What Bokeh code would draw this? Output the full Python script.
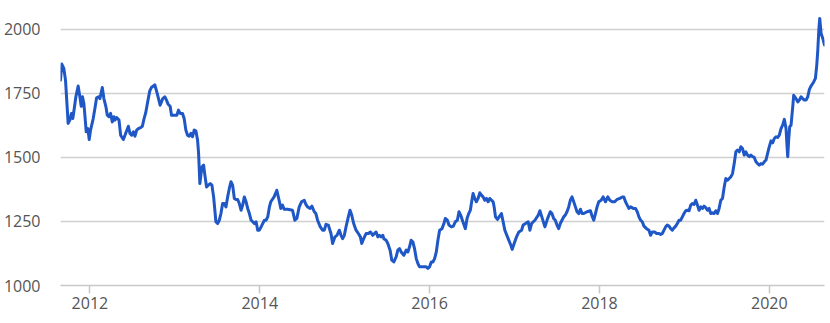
from bokeh.plotting import figure
from bokeh.models import FixedTicker, Range1d
from bokeh.embed import file_html
from bokeh.resources import INLINE

years = [
    2011.654, 2011.669, 2011.693, 2011.713, 2011.744, 2011.764, 2011.783, 2011.799, 2011.819, 2011.835,
    2011.862, 2011.882, 2011.898, 2011.913, 2011.929, 2011.941, 2011.957, 2011.976, 2011.992, 2012.008,
    2012.039, 2012.059, 2012.079, 2012.102, 2012.118, 2012.146, 2012.165, 2012.189, 2012.205, 2012.224,
    2012.244, 2012.264, 2012.283, 2012.295, 2012.315, 2012.343, 2012.362, 2012.394, 2012.421, 2012.453,
    2012.472, 2012.492, 2012.512, 2012.531, 2012.551, 2012.571, 2012.598, 2012.618, 2012.638, 2012.657,
    2012.677, 2012.705, 2012.724, 2012.748, 2012.764, 2012.787, 2012.803, 2012.827, 2012.843, 2012.858,
    2012.882, 2012.902, 2012.921, 2012.945, 2012.961, 2012.992, 2013.024, 2013.043, 2013.063, 2013.091,
    2013.110, 2013.130, 2013.150, 2013.169, 2013.189, 2013.209, 2013.228, 2013.248, 2013.268, 2013.280,
    2013.295, 2013.319, 2013.339, 2013.354, 2013.374, 2013.394, 2013.417, 2013.437, 2013.457, 2013.484,
    2013.504, 2013.524, 2013.543, 2013.563, 2013.583, 2013.602, 2013.622, 2013.642, 2013.661, 2013.681,
    2013.701, 2013.720, 2013.740, 2013.760, 2013.780, 2013.799, 2013.819, 2013.839, 2013.858, 2013.878,
    2013.898, 2013.917, 2013.937, 2013.957, 2013.976, 2013.996, 2014.016, 2014.035, 2014.055, 2014.075,
    2014.094, 2014.114, 2014.130, 2014.169, 2014.201, 2014.228, 2014.248, 2014.268, 2014.287, 2014.327,
    2014.386, 2014.413, 2014.437, 2014.465, 2014.492, 2014.524, 2014.543, 2014.563, 2014.594, 2014.614,
    2014.642, 2014.661, 2014.681, 2014.713, 2014.740, 2014.760, 2014.780, 2014.807, 2014.839, 2014.858,
    2014.886, 2014.909, 2014.937, 2014.957, 2014.976, 2014.996, 2015.016, 2015.043, 2015.063, 2015.083,
    2015.106, 2015.134, 2015.161, 2015.185, 2015.201, 2015.224, 2015.252, 2015.280, 2015.303, 2015.331,
    2015.350, 2015.370, 2015.390, 2015.409, 2015.429, 2015.449, 2015.461, 2015.488, 2015.508, 2015.535,
    2015.555, 2015.579, 2015.606, 2015.626, 2015.646, 2015.665, 2015.697, 2015.724, 2015.744, 2015.764,
    2015.783, 2015.803, 2015.823, 2015.843, 2015.862, 2015.882, 2015.909, 2015.941, 2015.961, 2015.980,
    2016.000, 2016.020, 2016.039, 2016.059, 2016.079, 2016.098, 2016.118, 2016.146, 2016.169, 2016.185,
    2016.209, 2016.228, 2016.256, 2016.280, 2016.303, 2016.327, 2016.346, 2016.366, 2016.386, 2016.406,
    2016.421, 2016.441, 2016.461, 2016.480, 2016.492, 2016.512, 2016.531, 2016.551, 2016.571, 2016.591,
    2016.610, 2016.630, 2016.650, 2016.669, 2016.689, 2016.709, 2016.728, 2016.748, 2016.760, 2016.776,
    2016.799, 2016.827, 2016.846, 2016.866, 2016.886, 2016.925, 2016.957, 2016.972, 2016.996, 2017.024,
    2017.051, 2017.083, 2017.102, 2017.130, 2017.161, 2017.181, 2017.201, 2017.240, 2017.280, 2017.299,
    2017.327, 2017.358, 2017.390, 2017.421, 2017.441, 2017.461, 2017.480, 2017.500, 2017.520, 2017.539,
    2017.559, 2017.579, 2017.598, 2017.618, 2017.638, 2017.657, 2017.677, 2017.697, 2017.717, 2017.736,
    2017.756, 2017.776, 2017.795, 2017.815, 2017.854, 2017.894, 2017.913, 2017.933, 2017.953, 2017.972,
    2017.992, 2018.020, 2018.043, 2018.071, 2018.098, 2018.122, 2018.150, 2018.177, 2018.209, 2018.240,
    2018.268, 2018.287, 2018.307, 2018.327, 2018.346, 2018.366, 2018.398, 2018.425, 2018.445, 2018.465,
    2018.484, 2018.504, 2018.524, 2018.555, 2018.583, 2018.602, 2018.622, 2018.650, 2018.673, 2018.701,
    2018.720, 2018.740, 2018.760, 2018.780, 2018.799, 2018.819, 2018.839, 2018.858, 2018.878, 2018.898,
    2018.917, 2018.937, 2018.957, 2018.976, 2018.996, 2019.016, 2019.035, 2019.055, 2019.075, 2019.094,
    2019.114, 2019.134, 2019.154, 2019.173, 2019.193, 2019.213, 2019.232, 2019.252, 2019.272, 2019.291,
    2019.311, 2019.331, 2019.350, 2019.370, 2019.390, 2019.409, 2019.429, 2019.449, 2019.469, 2019.488,
    2019.508, 2019.528, 2019.547, 2019.567, 2019.587, 2019.606, 2019.626, 2019.646, 2019.665, 2019.685,
    2019.705, 2019.724, 2019.744, 2019.764, 2019.783, 2019.803, 2019.823, 2019.843, 2019.862, 2019.882,
    2019.902, 2019.921, 2019.941, 2019.961, 2019.980, 2020.000, 2020.020, 2020.039, 2020.059, 2020.079,
    2020.098, 2020.118, 2020.138, 2020.157, 2020.177, 2020.197, 2020.209, 2020.217, 2020.228, 2020.240,
    2020.256, 2020.276, 2020.287, 2020.315, 2020.335, 2020.354, 2020.374, 2020.394, 2020.413, 2020.433,
    2020.453, 2020.472, 2020.492, 2020.524, 2020.543, 2020.559, 2020.571, 2020.583, 2020.594, 2020.610,
    2020.630, 2020.650,
]

prices = [
    1802, 1865, 1848, 1802, 1633, 1646, 1672, 1652, 1698, 1737,
    1779, 1737, 1700, 1737, 1711, 1665, 1600, 1613, 1570, 1607,
    1652, 1691, 1733, 1737, 1730, 1773, 1730, 1698, 1665, 1659,
    1672, 1639, 1659, 1646, 1656, 1646, 1587, 1570, 1594, 1622,
    1594, 1587, 1600, 1583, 1607, 1613, 1617, 1622, 1652, 1674,
    1711, 1760, 1773, 1779, 1784, 1757, 1737, 1704, 1717, 1730,
    1737, 1724, 1708, 1700, 1665, 1665, 1665, 1685, 1672, 1672,
    1652, 1607, 1587, 1583, 1594, 1581, 1607, 1604, 1568, 1516,
    1398, 1463, 1470, 1431, 1385, 1392, 1398, 1392, 1346, 1249,
    1242, 1255, 1281, 1320, 1320, 1307, 1346, 1379, 1405, 1392,
    1340, 1336, 1336, 1320, 1294, 1314, 1346, 1327, 1301, 1281,
    1255, 1249, 1242, 1249, 1216, 1216, 1229, 1242, 1255, 1255,
    1268, 1307, 1327, 1346, 1372, 1333, 1301, 1314, 1298, 1298,
    1294, 1255, 1262, 1307, 1327, 1333, 1317, 1307, 1301, 1310,
    1288, 1281, 1255, 1229, 1216, 1216, 1239, 1236, 1203, 1164,
    1190, 1196, 1216, 1196, 1183, 1196, 1229, 1268, 1294, 1275,
    1242, 1216, 1203, 1190, 1164, 1183, 1203, 1203, 1209, 1196,
    1203, 1209, 1190, 1196, 1190, 1196, 1183, 1177, 1164, 1138,
    1099, 1092, 1112, 1138, 1144, 1131, 1118, 1138, 1131, 1151,
    1177, 1170, 1144, 1105, 1086, 1073, 1073, 1073, 1073, 1067,
    1073, 1092, 1092, 1105, 1131, 1177, 1216, 1222, 1242, 1262,
    1255, 1236, 1229, 1232, 1249, 1255, 1288, 1275, 1255, 1236,
    1222, 1262, 1281, 1294, 1320, 1359, 1340, 1327, 1340, 1362,
    1353, 1346, 1333, 1340, 1327, 1340, 1333, 1327, 1307, 1268,
    1258, 1272, 1281, 1249, 1216, 1183, 1157, 1141, 1164, 1190,
    1209, 1216, 1236, 1242, 1249, 1216, 1242, 1255, 1275, 1292,
    1262, 1229, 1262, 1288, 1281, 1262, 1255, 1236, 1222, 1242,
    1255, 1268, 1275, 1288, 1307, 1333, 1346, 1327, 1307, 1288,
    1281, 1298, 1281, 1281, 1288, 1292, 1271, 1255, 1281, 1307,
    1327, 1333, 1346, 1327, 1346, 1333, 1327, 1327, 1336, 1340,
    1346, 1346, 1327, 1314, 1301, 1307, 1301, 1301, 1288, 1268,
    1255, 1249, 1232, 1222, 1216, 1196, 1209, 1209, 1203, 1203,
    1199, 1203, 1216, 1229, 1236, 1232, 1222, 1216, 1225, 1232,
    1242, 1255, 1255, 1268, 1281, 1292, 1294, 1292, 1314, 1320,
    1317, 1333, 1314, 1294, 1307, 1301, 1310, 1304, 1294, 1301,
    1281, 1284, 1281, 1292, 1281, 1301, 1333, 1340, 1385, 1418,
    1411, 1418, 1424, 1437, 1476, 1522, 1529, 1522, 1542, 1535,
    1509, 1522, 1509, 1503, 1509, 1503, 1500, 1483, 1476, 1470,
    1476, 1474, 1483, 1490, 1516, 1542, 1565, 1557, 1574, 1581,
    1578, 1587, 1613, 1626, 1649, 1613, 1542, 1503, 1568, 1620,
    1626, 1698, 1743, 1730, 1717, 1724, 1737, 1730, 1724, 1724,
    1737, 1766, 1779, 1796, 1809, 1861, 1919, 1997, 2043, 1984,
    1965, 1939,
]

year_ticks = [2012, 2014, 2016, 2018, 2020]
price_ticks = [1000, 1250, 1500, 1750, 2000]

p = figure(
    width=830, height=323,
    output_backend="svg", toolbar_location=None,
    x_range=Range1d(years[0], years[-1]),
    y_range=Range1d(1000, 2074),
    min_border_left=60, min_border_right=6,
    min_border_top=10, min_border_bottom=38,
)
p.outline_line_color = None
p.background_fill_color = "white"
p.border_fill_color = "white"

p.line(years, prices, line_width=3, color="#1f57c7", line_join="round", line_cap="round")

label_font = "Open Sans"
label_color = "#555555"

xa = p.xaxis[0]
xa.ticker = FixedTicker(ticks=year_ticks)
xa.axis_line_color = "#c8c8c8"
xa.axis_line_width = 1.5
xa.major_tick_line_color = "#c8cbb8"
xa.major_tick_line_width = 1.5
xa.major_tick_out = 8
xa.major_tick_in = 0
xa.minor_tick_line_color = None
xa.major_label_standoff = 3
xa.major_label_text_font = label_font
xa.major_label_text_font_size = "16px"
xa.major_label_text_color = label_color

ya = p.yaxis[0]
ya.ticker = FixedTicker(ticks=price_ticks)
ya.axis_line_color = None
ya.major_tick_line_color = None
ya.minor_tick_line_color = None
ya.major_tick_out = 0
ya.major_tick_in = 0
ya.minor_tick_out = 0
ya.major_label_standoff = 20
ya.major_label_text_font = label_font
ya.major_label_text_font_size = "16px"
ya.major_label_text_color = label_color

p.xgrid.grid_line_color = None
p.ygrid.ticker = FixedTicker(ticks=price_ticks)
p.ygrid.grid_line_color = "#d0d0d0"
p.ygrid.grid_line_width = 1.5

open("out.html", "w").write(file_html(p, INLINE))
